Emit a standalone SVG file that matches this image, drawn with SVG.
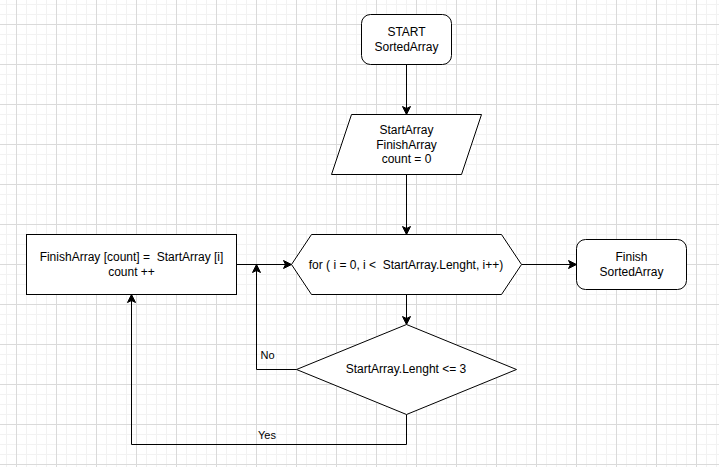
<svg xmlns="http://www.w3.org/2000/svg" width="719" height="467" viewBox="0 0 719 467">
  <defs>
    <pattern id="grid" patternUnits="userSpaceOnUse" x="16" y="24" width="40" height="40">
      <path d="M10.5,0V40M20.5,0V40M30.5,0V40M0,10.5H40M0,20.5H40M0,30.5H40" stroke="#f2f2f2" stroke-width="1" fill="none"/>
      <path d="M0.5,0V40M0,0.5H40" stroke="#dadada" stroke-width="1" fill="none"/>
    </pattern>
    <marker id="arrow" markerUnits="userSpaceOnUse" markerWidth="9" markerHeight="9" refX="8" refY="4" orient="auto" overflow="visible">
      <path d="M0,0 L8,4 L0,8 L2,4 Z" fill="#000" stroke="#000" stroke-width="1"/>
    </marker>
  </defs>
  <style>
    .shape { fill: #fff; stroke: #000; stroke-width: 1; }
    .edge { fill: none; stroke: #000; stroke-width: 1; marker-end: url(#arrow); }
    .t { font-family: "Liberation Sans", Arial, Helvetica, sans-serif; font-size: 12px; fill: #000; text-anchor: middle; }
    .lbl { font-family: "Liberation Sans", Arial, Helvetica, sans-serif; font-size: 11px; fill: #000; }
  </style>
  <rect x="0" y="0" width="719" height="467" fill="#fff"/>
  <rect x="0" y="0" width="719" height="467" fill="url(#grid)"/>

  <g id="connectors">
    <path class="edge" d="M406.5,64.5 L406.5,114.5"/>
    <path class="edge" d="M406.5,174.5 L406.5,234.5"/>
    <path class="edge" d="M521.5,264.5 L576.5,264.5"/>
    <path class="edge" d="M406.5,294.5 L406.5,324.5"/>
    <path class="edge" d="M236.5,264.5 L291.5,264.5"/>
    <path class="edge" d="M296.5,369.5 L256.5,369.5 L256.5,264.5"/>
    <path class="edge" d="M406.5,414.5 L406.5,444.5 L131.5,444.5 L131.5,294.5"/>
    <text class="lbl" x="260.5" y="359">No</text>
    <text class="lbl" x="258" y="439">Yes</text>
  </g>

  <g id="start">
    <rect class="shape" x="361.5" y="14.5" width="90" height="50" rx="9" ry="9"/>
    <text class="t" x="406.5" y="36">START</text>
    <text class="t" x="406.5" y="51">SortedArray</text>
  </g>

  <g id="input">
    <polygon class="shape" points="351.5,114.5 481.5,114.5 461.5,174.5 331.5,174.5"/>
    <text class="t" x="406.5" y="134">StartArray</text>
    <text class="t" x="406.5" y="148.5">FinishArray</text>
    <text class="t" x="406.5" y="163">count = 0</text>
  </g>

  <g id="loop">
    <polygon class="shape" points="291.5,264.5 311.5,234.5 501.5,234.5 521.5,264.5 501.5,294.5 311.5,294.5"/>
    <text class="t" x="406" y="268.5" xml:space="preserve">for ( i = 0, i &lt;  StartArray.Lenght, i++)</text>
  </g>

  <g id="finish">
    <rect class="shape" x="576.5" y="239.5" width="110" height="50" rx="9" ry="9"/>
    <text class="t" x="631.5" y="261">Finish</text>
    <text class="t" x="631.5" y="276">SortedArray</text>
  </g>

  <g id="assign">
    <rect class="shape" x="26.5" y="234.5" width="210" height="60"/>
    <text class="t" x="131.5" y="261" xml:space="preserve">FinishArray [count] =  StartArray [i]</text>
    <text class="t" x="131.5" y="276">count ++</text>
  </g>

  <g id="condition">
    <polygon class="shape" points="406.5,324.5 516.5,369.5 406.5,414.5 296.5,369.5"/>
    <text class="t" x="406" y="373">StartArray.Lenght &lt;= 3</text>
  </g>
</svg>
